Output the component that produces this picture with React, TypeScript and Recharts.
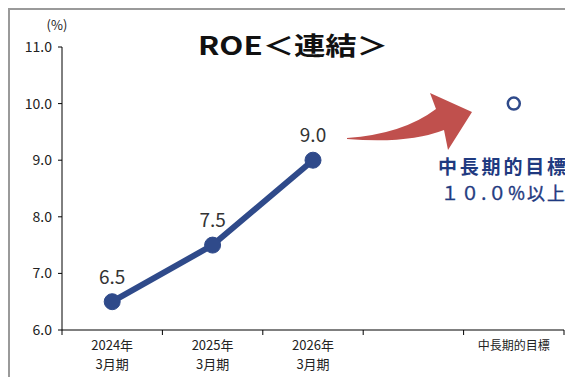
import React from "react";
import { LineChart, Line, XAxis, YAxis, LabelList, Customized } from "recharts";

const line1Labels = ["2024年", "2025年", "2026年", "", "中長期的目標"];
const line2Labels = ["3月期", "3月期", "3月期", "", ""];
const roeActual: (number | null)[] = [6.5, 7.5, 9.0, null, null];
const roeTarget: (number | null)[] = [null, null, null, null, 10.0];
const yTicks = [6, 7, 8, 9, 10, 11];

const data = line1Labels.map((l, i) => ({
  pos: i + 0.5,
  actual: roeActual[i],
  target: roeTarget[i],
}));
// boundaries (integers) get tick marks, centers (halves) get labels
const xTicks = Array.from({ length: line1Labels.length * 2 + 1 }, (_, k) => k / 2);

const NAVY = "#2F4A8A";
const FONT = "'Noto Sans CJK JP', 'Noto Sans', sans-serif";

const XTick = (props: any) => {
  const { x, y, payload } = props;
  const v = Number(payload.value);
  if (Number.isInteger(v)) {
    return <line x1={x} x2={x} y1={y} y2={y + 5} stroke="#000" strokeWidth={1} />;
  }
  const i = Math.floor(v);
  const a = line1Labels[i];
  const b = line2Labels[i];
  const small = b === "";
  return (
    <g>
      <text x={x} y={y + 20} textAnchor="middle" fontSize={small ? 12 : 13} fill="#222" fontFamily={FONT}>
        {a}
      </text>
      {b && (
        <text x={x} y={y + 39} textAnchor="middle" fontSize={13} fill="#222" fontFamily={FONT}>
          {b}
        </text>
      )}
    </g>
  );
};

const Decor = () => (
  <g>
    <rect x={1} y={1} width={700} height={700} fill="none" stroke="#9a9a9a" strokeWidth={2} />
    <text x={49} y={22} textAnchor="middle" fontSize={13} fill="#222" fontFamily={FONT}>
      (%)
    </text>
    <text x={190} y={47} fontSize={25} fontWeight="bold" fill="#111" fontFamily={FONT} textLength={190} lengthAdjust="spacingAndGlyphs">
      ROE＜連結＞
    </text>
    <path
      d="M339,130 Q395,126 428,101 L422,85 L464,104 L440,142 L436,122 Q400,136 339,131 Z"
      fill="#C0504D"
    />
    <text x={430} y={166} fontSize={19} fontWeight="bold" fill="#1F3A80" fontFamily={FONT} textLength={128} lengthAdjust="spacing">
      中長期的目標
    </text>
    <text x={433} y={192} fontSize={18} fill="#1F3A80" fontFamily={FONT} textLength={124} lengthAdjust="spacing" stroke="#1F3A80" strokeWidth={0.4}>
      １０.０%以上
    </text>
  </g>
);

export default function App() {
  return (
    <LineChart
      width={565}
      height={369}
      data={data}
      margin={{ top: 39, right: 9, bottom: 0, left: 0 }}
      style={{ fontFamily: FONT }}
    >
      <XAxis
        dataKey="pos"
        type="number"
        domain={[0, line1Labels.length]}
        ticks={xTicks}
        allowDataOverflow
        interval={0}
        height={47}
        tickSize={0}
        tickMargin={0}
        tickLine={false}
        tick={<XTick />}
        axisLine={{ stroke: "#000", strokeWidth: 1 }}
      />
      <YAxis
        domain={[6, 11]}
        ticks={yTicks}
        width={54}
        tickSize={4}
        tickMargin={6}
        tickFormatter={(v: number) => v.toFixed(1)}
        tick={{ fontSize: 14, fill: "#222", fontFamily: FONT }}
        axisLine={{ stroke: "#000", strokeWidth: 1 }}
        tickLine={{ stroke: "#000" }}
      />
      <Line
        dataKey="actual"
        stroke={NAVY}
        strokeWidth={6}
        dot={{ r: 8, fill: NAVY, stroke: NAVY, strokeWidth: 1 }}
        isAnimationActive={false}
        connectNulls={false}
      >
        <LabelList
          dataKey="actual"
          position="top"
          offset={18}
          formatter={(v: any) => (v == null ? "" : Number(v).toFixed(1))}
          style={{ fontSize: 19, fill: "#333", fontFamily: FONT }}
        />
      </Line>
      <Line
        dataKey="target"
        stroke="none"
        dot={{ r: 6, fill: "#fff", stroke: NAVY, strokeWidth: 2.5 }}
        isAnimationActive={false}
      />
      <Customized component={Decor} />
    </LineChart>
  );
}
